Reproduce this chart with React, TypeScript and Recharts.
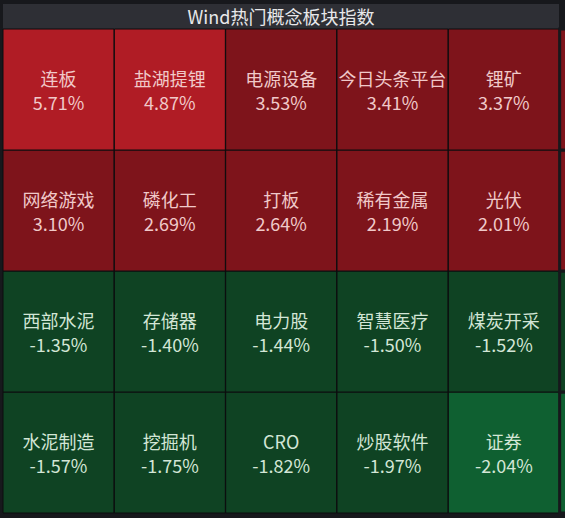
import { BarChart, Bar, XAxis, YAxis, Cell, LabelList } from "recharts";

// tiles, read row by row (top to bottom, left to right)
const names = [
  ["连板", "盐湖提锂", "电源设备", "今日头条平台", "锂矿"],
  ["网络游戏", "磷化工", "打板", "稀有金属", "光伏"],
  ["西部水泥", "存储器", "电力股", "智慧医疗", "煤炭开采"],
  ["水泥制造", "挖掘机", "CRO", "炒股软件", "证券"],
];
const changes = [
  [5.71, 4.87, 3.53, 3.41, 3.37],
  [3.1, 2.69, 2.64, 2.19, 2.01],
  [-1.35, -1.4, -1.44, -1.5, -1.52],
  [-1.57, -1.75, -1.82, -1.97, -2.04],
];
const columns = [0, 1, 2, 3, 4];
const rows = [0, 1, 2, 3];

const font = '"Noto Sans CJK SC", "Microsoft YaHei", sans-serif';

function tileColor(v: number) {
  if (v >= 4) return "#b01c25";
  if (v >= 0) return "#7e141b";
  if (v > -2) return "#0f4323";
  return "#0f6031";
}

function textColor(v: number) {
  return v >= 0 ? "#f0c9c9" : "#d3e6d6";
}

// one entry per column plus a clipped continuation column on the right edge
const data = [...columns, 5].map((c) => {
  const d: Record<string, number> = { col: c };
  rows.forEach((r) => (d["r" + r] = 1));
  return d;
});

function TileLabel(props: any, r: number) {
  const { x, y, width, height, index } = props;
  if (index > 4) return null;
  const v = changes[r][index];
  const cx = x + width / 2;
  const cy = y + height / 2;
  return (
    <g>
      <text x={cx} y={cy - 12} textAnchor="middle" dominantBaseline="central" fill={textColor(v)} fontSize={18} fontFamily={font}>
        {names[r][index]}
      </text>
      <text x={cx} y={cy + 12} textAnchor="middle" dominantBaseline="central" fill={textColor(v)} fontSize={18} fontFamily={font}>
        {v.toFixed(2) + "%"}
      </text>
    </g>
  );
}

export default function App() {
  // stack bottom row first so row 0 ends up on top
  const stackOrder = [...rows].reverse();
  return (
    <div style={{ position: "relative", width: 565, height: 518, background: "#17181c", overflow: "hidden" }}>
      <style>{"body{margin:0}"}</style>
      <div
        style={{
          position: "absolute",
          left: 3,
          top: 4,
          width: 556,
          height: 25,
          background: "#2e2f35",
          color: "#e8e8ea",
          fontFamily: font,
          fontSize: 18,
          lineHeight: "25px",
          textAlign: "center",
        }}
      >
        Wind热门概念板块指数
      </div>
      <BarChart
        width={676}
        height={518}
        data={data}
        barCategoryGap={0}
        margin={{ top: 29, right: 5, bottom: 5, left: 3 }}
      >
        <XAxis dataKey="col" hide />
        <YAxis hide domain={[0, 4]} />
        {stackOrder.map((r) => (
          <Bar
            key={r}
            dataKey={"r" + r}
            stackId="grid"
            stroke="#0c0c0e"
            strokeWidth={1}
            isAnimationActive={false}
          >
            {[...columns, 5].map((c) => (
              <Cell
                key={c}
                fill={tileColor(changes[r][Math.min(c, 4)])}
                stroke={c === 5 ? "#17181c" : "#0c0c0e"}
                strokeWidth={c === 5 ? 3 : 1}
              />
            ))}
            <LabelList dataKey={"r" + r} content={(p: any) => TileLabel(p, r)} />
          </Bar>
        ))}
      </BarChart>
    </div>
  );
}
